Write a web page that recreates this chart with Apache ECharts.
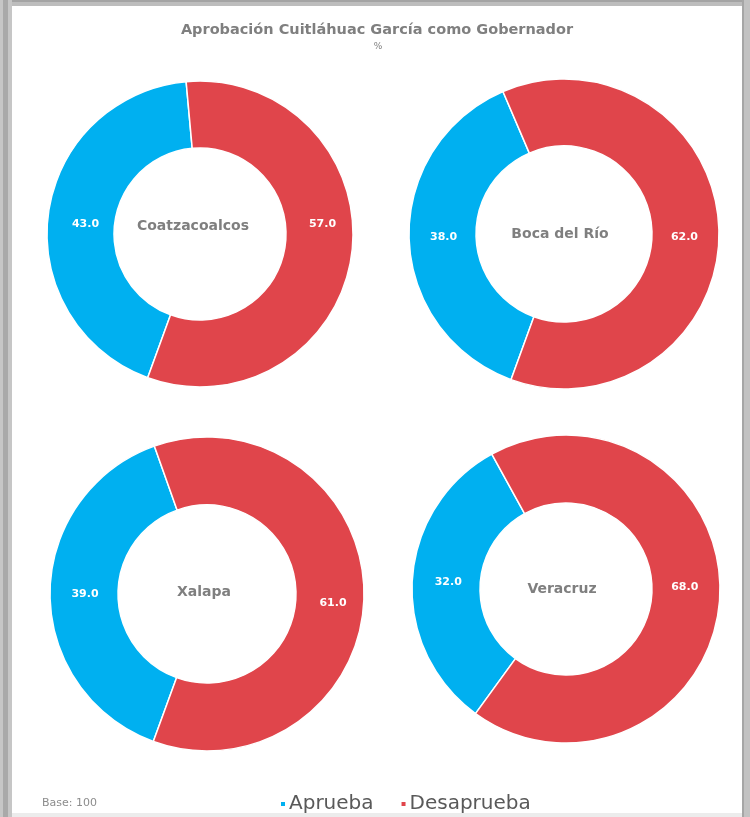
<!DOCTYPE html>
<html>
<head>
<meta charset="utf-8">
<script src="https://cdn.jsdelivr.net/npm/echarts@6/dist/echarts.min.js"></script>
<style>
html,body{margin:0;padding:0;background:#fff;}
#chart{width:750px;height:817px;}
</style>
</head>
<body>
<div id="chart"></div>
<script>
// ---- data ----
var cities = ['Coatzacoalcos', 'Boca del Río', 'Xalapa', 'Veracruz'];
var categories = ['Aprueba', 'Desaprueba'];
var aprueba = [43.0, 38.0, 39.0, 32.0];
var desaprueba = [57.0, 62.0, 61.0, 68.0];
var titleText = 'Aprobación Cuitláhuac García como Gobernador';
var subtitleText = '%';
var baseText = 'Base: 100';

// ---- layout (not data) ----
var centers = [[200, 234], [564, 234], [207, 594], [566, 589]];
var outerR = [153, 155, 157, 154];
var innerR = [86, 88, 89, 86];
var startAngles = [250, 250, 250, 234];
var cityLabelPos = [[193, 227], [560, 235], [204, 593], [562, 590]];
// small nudges of the value labels, to follow the reference placement
var labelNudge = [
  [[7, 6], [1, -26]],
  [[4, 0], [-4, 7]],
  [[4, 1], [0, 9]],
  [[5, 1], [-4, -10]]
];
var colors = ['#00b0f0', '#e0454b'];
var font = '"DejaVu Sans", Verdana, sans-serif';

var chart = echarts.init(document.getElementById('chart'), null, {renderer: 'canvas'});

var series = cities.map(function (c, i) {
  return {
    type: 'pie',
    name: c,
    center: centers[i],
    radius: [innerR[i], outerR[i]],
    startAngle: startAngles[i],
    clockwise: true,
    avoidLabelOverlap: false,
    silent: true,
    animation: false,
    itemStyle: {borderColor: '#ffffff', borderWidth: 1.5},
    label: {
      show: true,
      position: 'inside',
      color: '#ffffff',
      fontFamily: font,
      fontWeight: 'bold',
      fontSize: 11,
      formatter: function (p) { return p.value.toFixed(1); }
    },
    labelLayout: function (p) {
      var n = labelNudge[p.seriesIndex][p.dataIndex];
      return {dx: n[0], dy: n[1]};
    },
    labelLine: {show: false},
    emphasis: {disabled: true},
    data: [
      {name: categories[0], value: aprueba[i], itemStyle: {color: colors[0]}},
      {name: categories[1], value: desaprueba[i], itemStyle: {color: colors[1]}}
    ]
  };
});

var titles = [
  {
    text: titleText,
    left: 372, top: 18,
    textAlign: 'center',
    textStyle: {fontFamily: font, fontWeight: 'bold', fontSize: 14.5, color: '#7f7f7f'}
  },
  {
    text: subtitleText,
    left: 373, top: 37,
    textAlign: 'center',
    textStyle: {fontFamily: font, fontWeight: 'normal', fontSize: 9, color: '#7f7f7f'}
  },
  {
    text: baseText,
    left: 37, top: 793,
    textStyle: {fontFamily: font, fontWeight: 'normal', fontSize: 11, color: '#8c8c8c'}
  }
];
cities.forEach(function (c, i) {
  titles.push({
    text: c,
    left: cityLabelPos[i][0] - 5,
    top: cityLabelPos[i][1] - 13,
    textAlign: 'center',
    textStyle: {fontFamily: font, fontWeight: 'bold', fontSize: 14, color: '#7f7f7f'}
  });
});

var option = {
  backgroundColor: '#ffffff',
  animation: false,
  color: colors,
  title: titles,
  legend: {
    data: categories,
    left: 274,
    top: 789,
    icon: 'rect',
    itemWidth: 6,
    itemHeight: 6,
    itemGap: 26,
    selectedMode: false,
    textStyle: {fontFamily: font, fontSize: 20, color: '#595959', padding: [0, 0, 0, -2]}
  },
  graphic: [
    {type: 'rect', shape: {x: 0, y: 0, width: 750, height: 6}, style: {fill: '#bdbdbd'}, z: 100},
    {type: 'rect', shape: {x: 0, y: 0, width: 750, height: 2}, style: {fill: '#a4a4a4'}, z: 101},
    {type: 'rect', shape: {x: 0, y: 0, width: 12, height: 817}, style: {fill: '#c6c6c6'}, z: 102},
    {type: 'rect', shape: {x: 3, y: 0, width: 5, height: 817}, style: {fill: '#a9a9a9'}, z: 103},
    {type: 'rect', shape: {x: 742, y: 0, width: 8, height: 817}, style: {fill: '#c2c2c2'}, z: 102},
    {type: 'rect', shape: {x: 742, y: 0, width: 2, height: 817}, style: {fill: '#a6a6a6'}, z: 103},
    {type: 'rect', shape: {x: 12, y: 813, width: 730, height: 4}, style: {fill: '#ececec'}, z: 101}
  ],
  series: series
};
chart.setOption(option);
</script>
</body>
</html>
